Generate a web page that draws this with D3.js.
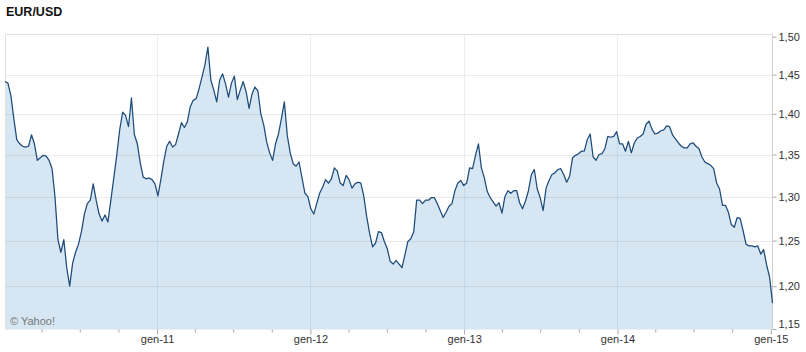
<!DOCTYPE html>
<html>
<head>
<meta charset="utf-8">
<script src="https://cdn.jsdelivr.net/npm/d3@7"></script>
<style>
  body { margin: 0; background: #fff; }
  svg { display: block; font-family: "Liberation Sans", Arial, sans-serif; }
</style>
</head>
<body>
<svg id="chart"></svg>
<script>
// weekly closes EUR/USD, first week of jan 2010 -> first week of jan 2015
const START_DATE = new Date(2010, 0, 4);
const rates = [
  1.441,1.439,1.423,1.394,1.368,1.363,1.360,1.359,1.360,1.374,
  1.363,1.343,1.346,1.349,1.348,1.343,1.333,1.300,1.251,1.237,
  1.251,1.220,1.200,1.225,1.237,1.246,1.260,1.280,1.292,1.296,
  1.315,1.296,1.280,1.272,1.279,1.271,1.296,1.322,1.349,1.380,
  1.402,1.398,1.384,1.420,1.374,1.363,1.340,1.323,1.321,1.322,
  1.320,1.315,1.301,1.320,1.342,1.360,1.366,1.359,1.362,1.375,
  1.389,1.383,1.390,1.409,1.417,1.419,1.432,1.447,1.463,1.486,
  1.443,1.430,1.415,1.443,1.451,1.438,1.421,1.439,1.448,1.418,
  1.430,1.441,1.428,1.407,1.425,1.434,1.429,1.400,1.386,1.365,
  1.352,1.343,1.363,1.375,1.394,1.415,1.373,1.352,1.339,1.336,
  1.341,1.322,1.304,1.300,1.286,1.280,1.292,1.304,1.311,1.320,
  1.316,1.321,1.334,1.330,1.316,1.313,1.325,1.320,1.310,1.315,
  1.317,1.316,1.301,1.277,1.258,1.243,1.247,1.260,1.259,1.249,
  1.241,1.227,1.224,1.228,1.224,1.220,1.234,1.249,1.252,1.260,
  1.296,1.296,1.292,1.296,1.296,1.299,1.299,1.292,1.284,1.276,
  1.282,1.289,1.292,1.307,1.316,1.319,1.313,1.316,1.334,1.333,
  1.349,1.363,1.334,1.322,1.306,1.299,1.294,1.289,1.293,1.281,
  1.300,1.307,1.304,1.307,1.307,1.293,1.286,1.295,1.307,1.326,
  1.332,1.309,1.299,1.284,1.310,1.319,1.326,1.328,1.332,1.333,
  1.326,1.317,1.324,1.346,1.349,1.351,1.354,1.354,1.368,1.375,
  1.347,1.343,1.350,1.351,1.357,1.372,1.371,1.372,1.378,1.363,
  1.363,1.354,1.366,1.352,1.364,1.370,1.372,1.375,1.387,1.391,
  1.381,1.375,1.376,1.379,1.380,1.385,1.384,1.374,1.369,1.364,
  1.360,1.358,1.358,1.363,1.364,1.360,1.357,1.347,1.341,1.339,
  1.337,1.333,1.316,1.309,1.290,1.290,1.282,1.268,1.265,1.276,
  1.275,1.261,1.246,1.244,1.244,1.243,1.244,1.235,1.240,1.223,
  1.210,1.182
];

const yTickValues = [1.15, 1.20, 1.25, 1.30, 1.35, 1.40, 1.45, 1.50];
const xTickDates = [new Date(2011,0,1), new Date(2012,0,1), new Date(2013,0,1), new Date(2014,0,1), new Date(2015,0,1)];
const xTickLabels = ['gen-11', 'gen-12', 'gen-13', 'gen-14', 'gen-15'];

const WIDTH = 806, HEIGHT = 352;
const PLOT = {left: 5, right: 772.5, top: 34, bottom: 329.5};

const data = rates.map((v, i) => ({date: d3.timeWeek.offset(START_DATE, i), value: v}));

const svg = d3.select('#chart')
    .attr('width', WIDTH)
    .attr('height', HEIGHT);

/* ************** SCALES ************** */
const x = d3.scaleTime()
    .domain(d3.extent(data, d => d.date))
    .range([PLOT.left, PLOT.right]);

// yahoo draws this one on a log scale
const y = d3.scaleLog()
    .domain([1.15, 1.5])
    .range([333.8, 36.7]);

const itFormat = d3.formatLocale({decimal: ',', thousands: '.', grouping: [3], currency: ['', '€']}).format('.2f');

// title
svg.append('text')
    .attr('x', 6)
    .attr('y', 16)
    .attr('font-size', 12.5)
    .attr('font-weight', 'bold')
    .attr('fill', '#111')
    .text('EUR/USD');

/* ************** AREA + LINE ************** */
const area = d3.area()
    .x(d => x(d.date))
    .y0(PLOT.bottom)
    .y1(d => y(d.value));

const line = d3.line()
    .x(d => x(d.date))
    .y(d => y(d.value));

svg.append('path')
    .datum(data)
    .attr('d', area)
    .attr('fill', '#d6e6f2');

// grid on top of the fill, it shows through a bit darker
const grid = svg.append('g');
grid.selectAll('.hgrid')
    .data(yTickValues.filter(v => v > 1.15 && v < 1.5))
    .enter().append('line')
    .classed('hgrid', true)
    .attr('x1', PLOT.left).attr('x2', PLOT.right)
    .attr('y1', d => Math.round(y(d)) + 0.5)
    .attr('y2', d => Math.round(y(d)) + 0.5)
    .attr('stroke', 'rgba(0,0,0,0.08)');

grid.selectAll('.vgrid')
    .data(xTickDates.slice(0, -1))
    .enter().append('line')
    .classed('vgrid', true)
    .attr('x1', d => Math.round(x(d)) + 0.5)
    .attr('x2', d => Math.round(x(d)) + 0.5)
    .attr('y1', PLOT.top).attr('y2', PLOT.bottom)
    .attr('stroke', 'rgba(40,70,110,0.09)');

// frame: top + left border, right axis line
svg.append('path')
    .attr('d', `M${PLOT.left + 0.5},${PLOT.bottom}V${PLOT.top + 0.5}H${PLOT.right}`)
    .attr('fill', 'none')
    .attr('stroke', '#e0e0e0');

svg.append('line')
    .attr('x1', PLOT.right).attr('x2', PLOT.right)
    .attr('y1', PLOT.top).attr('y2', PLOT.bottom)
    .attr('stroke', '#d0d0d0');

svg.append('path')
    .datum(data)
    .attr('d', line)
    .attr('fill', 'none')
    .attr('stroke', '#1d4b7a')
    .attr('stroke-width', 1.25)
    .attr('stroke-linejoin', 'round');

svg.append('text')
    .attr('x', 10)
    .attr('y', 324.5)
    .attr('font-size', 11)
    .attr('fill', '#777')
    .text('© Yahoo!');

/* ************** AXES ************** */
const yAxis = svg.append('g')
    .attr('transform', `translate(${PLOT.right},0)`)
    .call(d3.axisRight(y).tickValues(yTickValues).tickSize(4).tickPadding(2).tickFormat(itFormat));

yAxis.select('.domain').remove();
yAxis.selectAll('line').attr('stroke', '#aaa');
yAxis.selectAll('text').attr('fill', '#333').attr('font-size', 11).attr('font-family', null);
// lowest label sits on the bottom edge, pushed up a bit
yAxis.selectAll('.tick').filter(d => d === 1.15)
    .attr('transform', `translate(0,${PLOT.bottom})`)
    .select('text').attr('dy', '-0.1em');

const minorTicks = d3.timeMonth.every(3).range(x.domain()[0], x.domain()[1])
    .filter(d => d.getMonth() !== 0);

const xMinor = svg.append('g')
    .attr('transform', `translate(0,${PLOT.bottom})`)
    .call(d3.axisBottom(x).tickValues(minorTicks).tickSize(3).tickFormat(''));
xMinor.select('.domain').remove();
xMinor.selectAll('line').attr('stroke', '#aaa');

const xAxis = svg.append('g')
    .attr('transform', `translate(0,${PLOT.bottom})`)
    .call(d3.axisBottom(x).tickValues(xTickDates).tickSize(5).tickPadding(1)
        .tickFormat((d, i) => xTickLabels[i]));
xAxis.select('.domain').remove();
xAxis.selectAll('line').attr('stroke', '#aaa');
xAxis.selectAll('text').attr('fill', '#333').attr('font-size', 11).attr('font-family', null);
</script>
</body>
</html>
